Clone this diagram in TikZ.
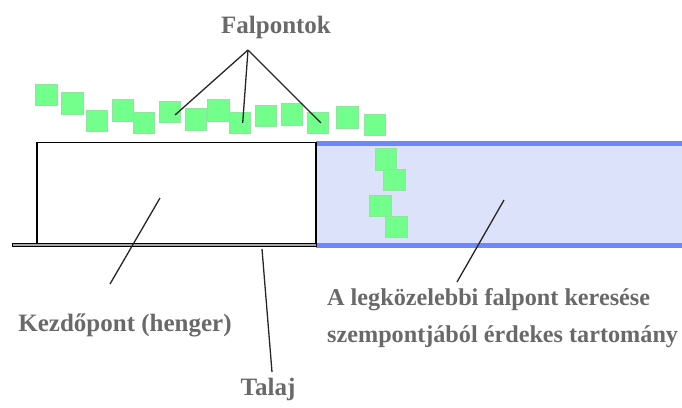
\documentclass[tikz,border=0pt]{standalone}
\usepackage{fontspec}
\setmainfont{Liberation Serif}
\definecolor{sqgreen}{RGB}{115,255,140}
\definecolor{sqedge}{RGB}{140,230,155}
\definecolor{bandfill}{RGB}{219,226,250}
\definecolor{bandline}{RGB}{110,135,255}
\definecolor{txtgray}{RGB}{105,105,105}
\tikzset{
  wallpt/.style={draw=sqedge,line width=0.6pt,fill=sqgreen,minimum size=21.5pt,inner sep=0pt,anchor=center},
  lbl/.style={text=txtgray,font=\fontsize{25pt}{37pt}\selectfont\bfseries,inner sep=0pt},
  pointer/.style={draw=black!85,line width=1.3pt},
}
\begin{document}
\begin{tikzpicture}[x=1pt,y=-1pt]
\useasboundingbox (0,0) rectangle (682,407);
% interesting region
\fill[bandfill] (316,143) rectangle (682,245);
\draw[bandline,line width=5pt] (316,143) -- (682,143);
\draw[bandline,line width=5pt] (316,245) -- (682,245);
% wall points
\node[wallpt] (s1) at (46.5,95) {};
\node[wallpt] (s2) at (72.5,103.5) {};
\node[wallpt] (s3) at (96.7,121) {};
\node[wallpt] (s4) at (123,110.3) {};
\node[wallpt] (s5) at (143.8,122.8) {};
\node[wallpt] (s6) at (170,112) {};
\node[wallpt] (s7) at (196,119.5) {};
\node[wallpt] (s8) at (218.5,110.3) {};
\node[wallpt] (s9) at (239.7,122.8) {};
\node[wallpt] (s10) at (265.8,115.7) {};
\node[wallpt] (s11) at (292,114.2) {};
\node[wallpt] (s12) at (317.8,122.8) {};
\node[wallpt] (s13) at (347.5,117.5) {};
\node[wallpt] (s14) at (375,124.8) {};
\node[wallpt] (s15) at (385.8,159.3) {};
\node[wallpt] (s16) at (394.5,180) {};
\node[wallpt] (s17) at (380.5,206) {};
\node[wallpt] (s18) at (396.2,226.8) {};
% ground and cylinder
\node[draw=black,line width=0.8pt,fill=black!35,minimum width=304pt,minimum height=3.5pt,inner sep=0pt] (ground) at (164,245) {};
\node[draw=black,line width=1.3pt,fill=white,minimum width=279pt,minimum height=101pt,inner sep=0pt] (cyl) at (176.5,193) {};
% labels
\node[lbl] (falp) at (276,27) {Falpontok};
\node[lbl] (kezd) at (125,325) {Kezdőpont (henger)};
\node[lbl] (talaj) at (268,389) {Talaj};
\node[lbl,font=\fontsize{24.2pt}{37pt}\selectfont\bfseries,align=left,anchor=west] (tart) at (327,318.5) {A legközelebbi falpont keresése\\szempontjából érdekes tartomány};
% pointers
\coordinate (apex) at (248,50);
\draw[pointer] (apex) -- ([xshift=5pt,yshift=-3pt]s6.center);
\draw[pointer] (apex) -- ([xshift=3pt]s9.center);
\draw[pointer] (apex) -- ([xshift=3pt]s12.center);
\coordinate (kin) at (160,198);
\coordinate (kout) at (110,284);
\draw[pointer] (kin) -- (kout);
\coordinate (tin) at (262,249);
\coordinate (tout) at (272,372);
\draw[pointer] (tin) -- (tout);
\coordinate (rin) at (504,200);
\coordinate (rout) at (457,282);
\draw[pointer] (rin) -- (rout);
\end{tikzpicture}
\end{document}
